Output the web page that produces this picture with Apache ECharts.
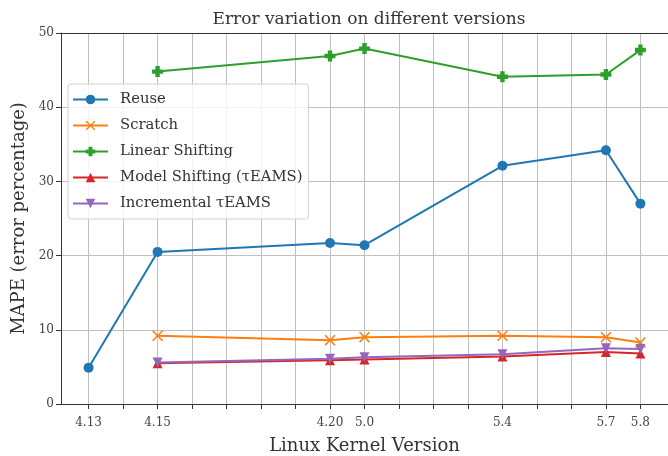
<!DOCTYPE html>
<html>
<head>
<meta charset="utf-8">
<script src="https://cdn.jsdelivr.net/npm/echarts@6/dist/echarts.min.js"></script>
<style>html,body{margin:0;padding:0;background:#fff}#c{width:668px;height:456px}</style>
</head>
<body>
<div id="c"></div>
<script>
// Kernel versions and their positions on the version axis (minor-release steps)
const versions = ['4.13', '4.15', '4.20', '5.0', '5.4', '5.7', '5.8'];
const versionPos = [0, 2, 7, 8, 12, 15, 16];
const tickPositions = [0,1,2,3,4,5,6,7,8,9,10,11,12,13,14,15,16];

const reuse        = [4.9, 20.5, 21.7, 21.4, 32.1, 34.2, 27.0];
const scratch      = [null, 9.2, 8.6, 9.0, 9.2, 9.0, 8.3];
const linearShift  = [null, 44.8, 46.9, 47.9, 44.1, 44.4, 47.7];
const modelShift   = [null, 5.5, 5.9, 6.0, 6.4, 7.0, 6.8];
const incremental  = [null, 5.6, 6.1, 6.3, 6.7, 7.5, 7.4];

const seriesNames = ['Reuse', 'Scratch', 'Linear Shifting', 'Model Shifting (\u03c4EAMS)', 'Incremental \u03c4EAMS'];
const seriesData = [reuse, scratch, linearShift, modelShift, incremental];
const colors = ['#1f77b4', '#ff7f0e', '#2ca02c', '#d62728', '#9467bd'];
const symbols = [
  'circle',
  'path://M1,0 L5,4 L9,0 L10,1 L6,5 L10,9 L9,10 L5,6 L1,10 L0,9 L4,5 L0,1 Z',
  'path://M3,0 L7,0 L7,3 L10,3 L10,7 L7,7 L7,10 L3,10 L3,7 L0,7 L0,3 L3,3 Z',
  'triangle',
  'triangle'
];
const symbolSizes = [10, 11, 11, 10, 10];
const symbolRot = [0, 0, 0, 0, 180];

const FONT = '"DejaVu Serif", "Liberation Serif", serif';
const labelMap = {};
versionPos.forEach((p, i) => { labelMap[p] = versions[i]; });

const series = seriesData.map((vals, si) => ({
  name: seriesNames[si],
  type: 'line',
  data: vals.map((v, i) => v == null ? null : [versionPos[i], v]).filter(d => d),
  color: colors[si],
  symbol: symbols[si],
  symbolSize: symbolSizes[si],
  symbolRotate: symbolRot[si],
  lineStyle: { width: 2, color: colors[si] },
  itemStyle: { color: colors[si] },
  emphasis: { disabled: true },
  animation: false
}));

const chart = echarts.init(document.getElementById('c'));
chart.setOption({
  animation: false,
  title: {
    text: 'Error variation on different versions',
    left: 364, top: 6, textAlign: 'center',
    textStyle: { fontFamily: FONT, fontSize: 17, fontWeight: 'normal', color: '#333' }
  },
  grid: { left: 61, top: 33, right: 0, bottom: 52, containLabel: false, outerBoundsMode: 'none' },
  legend: {
    orient: 'vertical', left: 68, top: 84,
    itemWidth: 35, itemHeight: 12, itemGap: 11,
    padding: [8, 6, 8, 4],
    backgroundColor: 'rgba(255,255,255,0.8)',
    borderColor: '#d0d0d0', borderWidth: 1, borderRadius: 3,
    textStyle: { fontFamily: FONT, fontSize: 14.8, color: '#333', padding: [0, 0, 0, 7] },
    data: seriesNames
  },
  xAxis: [{
    type: 'value', min: -0.8, max: 16.8,
    name: 'Linux Kernel Version', nameLocation: 'middle', nameGap: 33,
    nameTextStyle: { fontFamily: FONT, fontSize: 18, color: '#333' },
    axisLine: { show: true, onZero: false, lineStyle: { color: '#333', width: 1 } },
    axisTick: { show: true, customValues: tickPositions, length: 5, lineStyle: { color: '#333' } },
    axisLabel: {
      customValues: versionPos, fontFamily: FONT, fontSize: 12, color: '#444', margin: 13,
      formatter: v => labelMap[v] || ''
    },
    splitLine: { show: true, lineStyle: { color: '#c0c0c0', width: 1 } }
  }, {
    type: 'value', position: 'top', min: -0.8, max: 16.8,
    axisLine: { show: true, onZero: false, lineStyle: { color: '#333', width: 1 } },
    axisTick: { show: false }, axisLabel: { show: false }, splitLine: { show: false }
  }],
  yAxis: {
    type: 'value', min: 0, max: 50, interval: 10,
    name: 'MAPE (error percentage)', nameLocation: 'middle', nameGap: 30,
    nameTextStyle: { fontFamily: FONT, fontSize: 18, color: '#333' },
    axisLine: { show: true, onZero: false, lineStyle: { color: '#333', width: 1 } },
    axisTick: { show: true, length: 5, lineStyle: { color: '#333' } },
    axisLabel: { fontFamily: FONT, fontSize: 12, color: '#444', margin: 7 },
    splitLine: { show: true, lineStyle: { color: '#c0c0c0', width: 1 } }
  },
  series: series
});
</script>
</body>
</html>
